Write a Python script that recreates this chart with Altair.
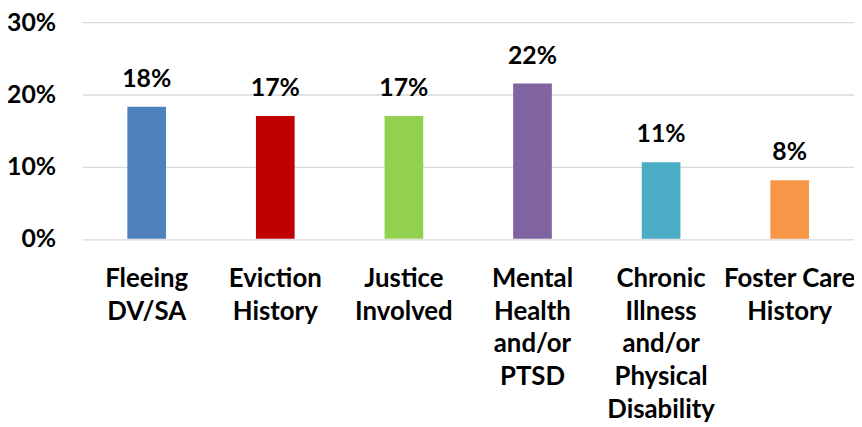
import altair as alt
import pandas as pd

categories = ["Fleeing|DV/SA", "Eviction|History", "Justice|Involved",
              "Mental|Health|and/or|PTSD", "Chronic|Illness|and/or|Physical|Disability",
              "Foster Care|History"]
values = [0.183, 0.170, 0.170, 0.215, 0.106, 0.081]
value_labels = ["18%", "17%", "17%", "22%", "11%", "8%"]
colors = ["#4F81BD", "#C00000", "#92D050", "#8064A2", "#4BACC6", "#F79646"]
y_ticks = [0, 0.1, 0.2, 0.3]

df = pd.DataFrame({"cat": categories, "val": values, "lab": value_labels, "col": colors})

FONT = "Lato"

x = alt.X("cat:N", sort=categories, title=None,
          scale=alt.Scale(paddingInner=0, paddingOuter=0),
          axis=alt.Axis(labelExpr="split(datum.label, '|')", labelAngle=0,
                        labelFont=FONT, labelFontSize=26, labelFontWeight="bold",
                        labelColor="black", labelLineHeight=33, labelPadding=27,
                        labelBaseline="top", labelAlign="center",
                        ticks=False, domain=False, grid=False, labelLimit=300))

y = alt.Y("val:Q", title=None,
          scale=alt.Scale(domain=[0, 0.3], nice=False),
          axis=alt.Axis(values=y_ticks, format=".0%", labelFont=FONT, labelFontSize=25,
                        labelFontWeight="bold", labelColor="black", labelPadding=27,
                        ticks=False, domain=False, gridColor="#D9D9D9", gridWidth=1.3))

bars = alt.Chart(df).mark_bar(size=39).encode(
    x=x, y=y, color=alt.Color("col:N", scale=None)
)

text = alt.Chart(df).mark_text(font=FONT, fontSize=25, fontWeight="bold", color="black",
                               baseline="alphabetic", dy=-20).encode(
    x=alt.X("cat:N", sort=categories), y="val:Q", text="lab:N"
)

chart = (bars + text).properties(
    width=778, height=218.5,
    autosize=alt.AutoSizeParams(type="none"),
    padding={"left": 75, "top": 12.5, "right": 0, "bottom": 188},
).configure_view(stroke=None)

chart.save("out.html", embed_options={"renderer": "svg", "actions": False})
